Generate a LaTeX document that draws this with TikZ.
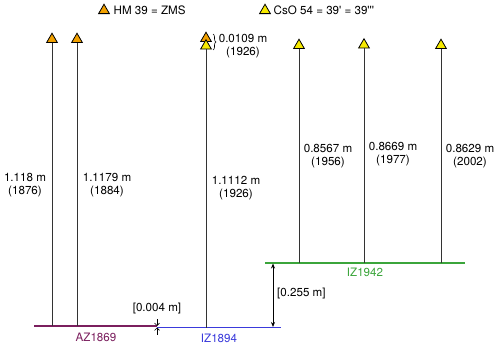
\documentclass[tikz,border=0pt]{standalone}
\usepackage{fontspec}
\setmainfont{TeX Gyre Heros}
\usetikzlibrary{shapes.geometric,arrows.meta,decorations.pathreplacing}
\definecolor{triorange}{HTML}{F2A100}
\definecolor{triyellow}{HTML}{F7EA00}
\definecolor{azpurple}{HTML}{7B1F5E}
\definecolor{izblue}{HTML}{3A3ADB}
\definecolor{izgreen}{HTML}{3BA53B}
\definecolor{stemgray}{HTML}{333333}
\begin{document}
\begin{tikzpicture}[x=1pt,y=-1pt,
  font=\fontsize{11.6}{12.5}\selectfont,
  tri/.style={regular polygon,regular polygon sides=3,draw=black,line width=0.8pt,minimum size=12.5pt,inner sep=0pt},
  hm/.style={tri,fill=triorange},
  cso/.style={tri,fill=triyellow},
  stem/.style={draw=stemgray,line width=1pt},
  lab/.style={align=center,inner sep=0pt},
  base/.style={line width=1.3pt}]
\useasboundingbox (0,0) rectangle (500,347);
% legend
\node[hm,anchor=center] (leg1) at (104,10.5) {};
\node[anchor=west,inner sep=0pt] (legt1) at (113.5,10) {HM 39 = ZMS};
\node[cso,anchor=center] (leg2) at (265,10.5) {};
\node[anchor=west,inner sep=0pt] (legt2) at (273.5,10) {CsO 54 = 39\textquotesingle{} = 39\textquotesingle\textquotesingle\textquotesingle};
% baselines
\coordinate (az1) at (34,326);
\coordinate (az2) at (157,326);
\coordinate (iz1) at (157,327.5);
\coordinate (iz2) at (281,327.5);
\coordinate (g1) at (265,263);
\coordinate (g2) at (465,263);
\draw[base,azpurple] (az1) -- (az2);
\draw[base,izblue] (iz1) -- (iz2);
\draw[base,izgreen] (g1) -- (g2);
\node[azpurple,inner sep=0pt] (azl) at (96,337) {AZ1869};
\node[izblue,inner sep=0pt] (izl) at (219,338) {IZ1894};
\node[izgreen,inner sep=0pt] (igl) at (365,272.5) {IZ1942};
% stems with markers
\node[hm,anchor=south] (t1) at (52,43) {};
\node[hm,anchor=south] (t2) at (77,43) {};
\node[hm,anchor=south] (t3a) at (206,42) {};
\node[cso,anchor=south] (t3) at (206,49.5) {};
\node[cso,anchor=south] (t4) at (299,49) {};
\node[cso,anchor=south] (t5) at (364,48.5) {};
\node[cso,anchor=south] (t6) at (441,49) {};
\draw[stem] (t1.south) -- (t1.south |- az1);
\draw[stem] (t2.south) -- (t2.south |- az1);
\draw[stem] (t3.south) -- (t3.south |- iz1);
\draw[stem] (t4.south) -- (t4.south |- g1);
\draw[stem] (t5.south) -- (t5.south |- g1);
\draw[stem] (t6.south) -- (t6.south |- g1);
% brace
\coordinate (br1) at (213,34);
\coordinate (br2) at (213,50);
\draw[line width=0.6pt,decorate,decoration={brace,amplitude=3pt}] (br1) -- (br2);
\node[lab] (dl) at (243,46) {0.0109 m\\(1926)};
% length labels
\node[lab] (l1) at (25,185) {1.118 m\\(1876)};
\node[lab] (l2) at (107,185) {1.1179 m\\(1884)};
\node[lab] (l3) at (236,188) {1.1112 m\\(1926)};
\node[lab] (l4) at (328,156) {0.8567 m\\(1956)};
\node[lab] (l5) at (393,154) {0.8669 m\\(1977)};
\node[lab] (l6) at (470,156) {0.8629 m\\(2002)};
% offsets
\coordinate (d1) at (273,263.5);
\coordinate (d2) at (273,327);
\draw[line width=0.8pt,{Stealth[length=5pt,width=4pt]}-{Stealth[length=5pt,width=4pt]}] (d1) -- (d2);
\node[anchor=west,inner sep=0pt] (dl2) at (277,294) {[0.255 m]};
\coordinate (s1) at (157,319);
\coordinate (s2) at (157,334.5);
\draw[line width=0.6pt,-{Straight Barb[length=2.5pt,width=5pt]}] (s1) -- (az2);
\draw[line width=0.6pt,-{Straight Barb[length=2.5pt,width=5pt]}] (s2) -- (iz1);
\node[inner sep=0pt] (dl1) at (157,309) {[0.004 m]};
\end{tikzpicture}
\end{document}
